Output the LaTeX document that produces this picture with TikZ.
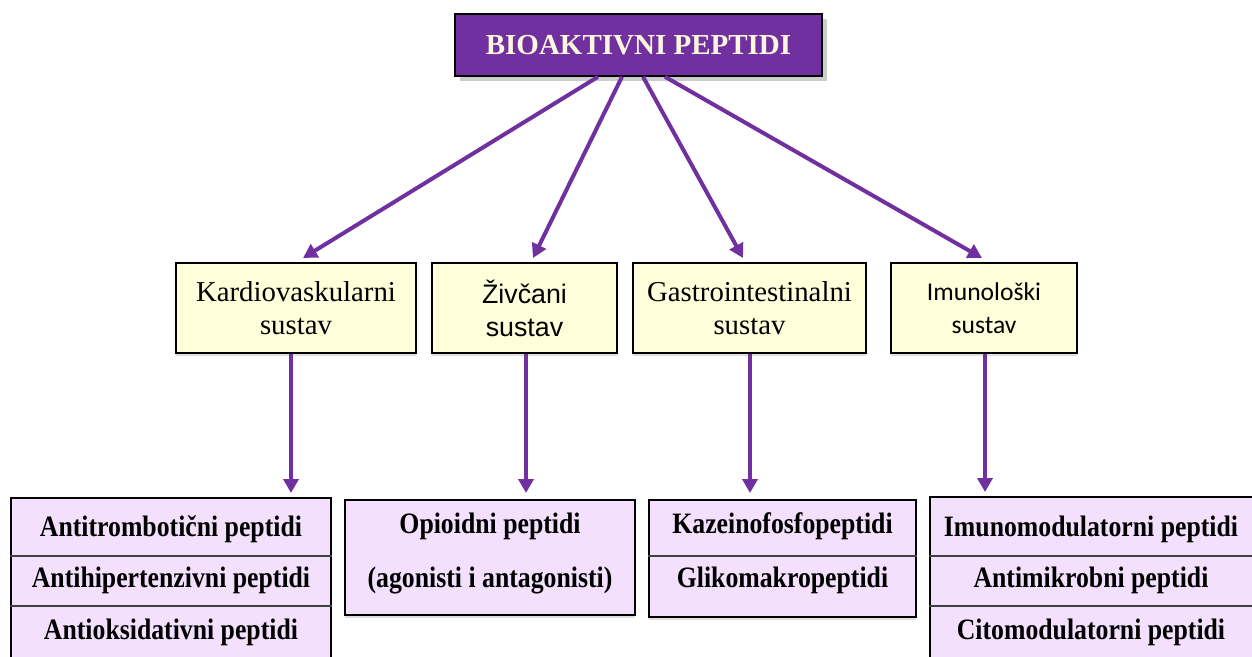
\documentclass[tikz,border=0pt]{standalone}
\usepackage{fontspec}
\setmainfont{Liberation Serif}
\newfontfamily\arialfont{Liberation Sans}
\newfontfamily\calibrifont{Carlito}
\newfontfamily\narrowfont{Liberation Serif}[FakeStretch=0.87]
\usetikzlibrary{arrows.meta,shadows}

\definecolor{ljub}{HTML}{7030A0}
\definecolor{zuta}{HTML}{FFFFDC}
\definecolor{roza}{HTML}{F3E0FC}
\definecolor{krem}{HTML}{FFF6E0}

\tikzset{
  sustav/.style={draw, line width=1pt, fill=zuta, align=center, minimum height=45pt,
    drop shadow={opacity=0.25, shadow xshift=0pt, shadow yshift=-1.5pt}},
  grupa/.style={draw, line width=1pt, fill=roza,
    drop shadow={opacity=0.25, shadow xshift=0pt, shadow yshift=-1.5pt}},
  red/.style={font=\narrowfont\bfseries\fontsize{14.8}{17}\selectfont},
  strelica/.style={-{Triangle[length=7pt,width=7.5pt]}, color=ljub, line width=2pt},
}

\begin{document}
\begin{tikzpicture}[x=0.5pt,y=-0.5pt]
\fill[white] (0,0) rectangle (1252,657);
\clip (0,0) rectangle (1252,657);

\node (A) at (638.5,45) [fill=ljub, draw, line width=0.8pt, minimum width=183.5pt, minimum height=31pt,
  text=krem, font=\bfseries\fontsize{14.5}{17}\selectfont, drop shadow={opacity=0.4}]{BIOAKTIVNI PEPTIDI};

\node (B-1) at (296,308) [sustav, minimum width=120pt, font=\fontsize{14.4}{16.5}\selectfont]{Kardiovaskularni\\sustav};
\node (B-2) at (524.5,308) [sustav, minimum width=92.5pt, font=\arialfont\fontsize{13.4}{16.5}\selectfont]{Živčani\\sustav};
\node (B-3) at (749.5,308) [sustav, minimum width=116.5pt, font=\fontsize{14.4}{16.5}\selectfont]{Gastrointestinalni\\sustav};
\node (B-4) at (984,308) [sustav, minimum width=93pt, font=\calibrifont\fontsize{12.8}{16.5}\selectfont]{Imunološki\\sustav};

\node (C-1) at (171,599) [grupa, minimum width=160pt, minimum height=101pt]{};
\node (C-2) at (490,557.5) [grupa, minimum width=145pt, minimum height=57.5pt]{};
\node (C-3) at (782.5,558.5) [grupa, minimum width=133.5pt, minimum height=58.5pt]{};
\node (C-4) at (1100,598.5) [grupa, minimum width=170pt, minimum height=101.5pt]{};

\draw [line width=0.6pt, black!75] (C-1.west |- 0,556) -- (C-1.east |- 0,556);
\draw [line width=0.6pt, black!75] (C-1.west |- 0,606) -- (C-1.east |- 0,606);
\draw [line width=0.6pt, black!75] (C-3.west |- 0,556) -- (C-3.east |- 0,556);
\draw [line width=0.6pt, black!75] (C-4.west |- 0,556) -- (C-4.east |- 0,556);
\draw [line width=0.6pt, black!75] (C-4.west |- 0,606) -- (C-4.east |- 0,606);

\node (C-1-1) at (171,529) [red]{Antitrombotični peptidi};
\node (C-1-2) at (171,580) [red]{Antihipertenzivni peptidi};
\node (C-1-3) at (171,632) [red]{Antioksidativni peptidi};

\node (C-2-1) at (490,526) [red]{Opioidni peptidi};
\node (C-2-2) at (490,580) [red]{(agonisti i antagonisti)};

\node (C-3-1) at (782.5,526) [red]{Kazeinofosfopeptidi};
\node (C-3-2) at (782.5,580) [red]{Glikomakropeptidi};

\node (C-4-1) at (1091,529) [red]{Imunomodulatorni peptidi};
\node (C-4-2) at (1091,580) [red]{Antimikrobni peptidi};
\node (C-4-3) at (1091,632) [red]{Citomodulatorni peptidi};

\draw [strelica] ([xshift=-20.25pt]A.south) -- ([xshift=3.5pt,yshift=2pt]B-1.north);
\draw [strelica] ([xshift=-8.25pt]A.south) -- ([xshift=4.25pt,yshift=2pt]B-2.north);
\draw [strelica] ([xshift=2.25pt]A.south) -- ([xshift=-3.25pt,yshift=2pt]B-3.north);
\draw [strelica] ([xshift=13.25pt]A.south) -- ([xshift=-1pt,yshift=2pt]B-4.north);

\draw [strelica] ([xshift=-2.5pt]B-1.south) -- ([xshift=-2.5pt,yshift=2pt]B-1.south |- C-1.north);
\draw [strelica] ([xshift=0.75pt]B-2.south) -- ([xshift=0.75pt,yshift=3pt]B-2.south |- C-2.north);
\draw [strelica] ([xshift=0.25pt]B-3.south) -- ([xshift=0.25pt,yshift=3pt]B-3.south |- C-3.north);
\draw [strelica] ([xshift=0.5pt]B-4.south) -- ([xshift=0.5pt,yshift=2pt]B-4.south |- C-4.north);

\end{tikzpicture}
\end{document}
